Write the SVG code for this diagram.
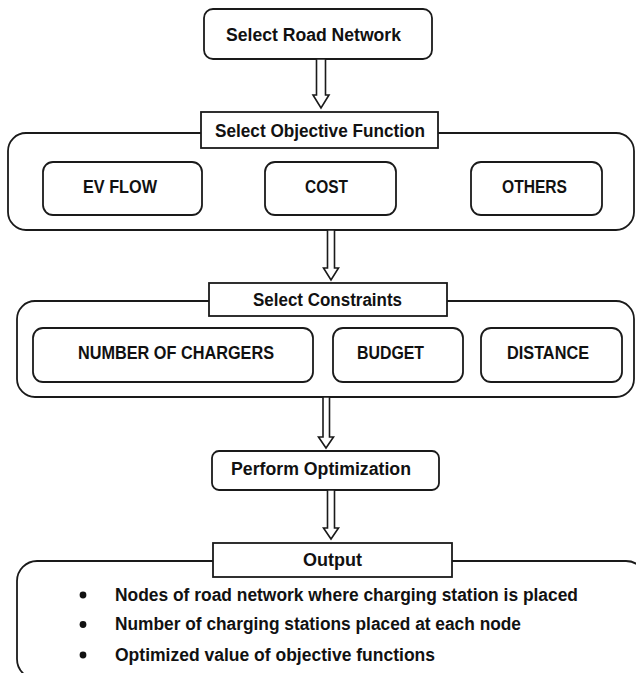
<svg xmlns="http://www.w3.org/2000/svg" width="636" height="673" viewBox="0 0 636 673">
  <style>
    .box { fill: #ffffff; stroke: #1a1a1a; stroke-width: 1.8; }
    .frame { fill: #ffffff; stroke: #1a1a1a; stroke-width: 1.8; }
    .arrow { fill: #ffffff; stroke: #1a1a1a; stroke-width: 1.6; stroke-linejoin: miter; }
    .lbl { font-family: "Liberation Sans", Arial, sans-serif; font-weight: bold; font-size: 18px; fill: #111111; text-anchor: middle; }
    .item { font-family: "Liberation Sans", Arial, sans-serif; font-weight: bold; font-size: 18px; fill: #111111; }
    .dot { fill: #111111; }
  </style>
  <rect width="636" height="673" fill="#ffffff"/>

  <!-- step 1 -->
  <g id="select-road-network">
    <rect class="box" x="204" y="9" width="228" height="50" rx="9"/>
    <text class="lbl" x="313.5" y="40.5" textLength="175" lengthAdjust="spacingAndGlyphs">Select Road Network</text>
  </g>

  <!-- objective function group -->
  <g id="objective-frame">
    <rect class="frame" x="8" y="133" width="626" height="97" rx="18"/>
  </g>
  <g id="select-objective-function">
    <rect class="box" x="201" y="112" width="237" height="36"/>
    <text class="lbl" x="320" y="137" textLength="210" lengthAdjust="spacingAndGlyphs">Select Objective Function</text>
  </g>
  <g id="ev-flow">
    <rect class="box" x="43" y="162" width="159" height="53" rx="10"/>
    <text class="lbl" x="120" y="193" textLength="74" lengthAdjust="spacingAndGlyphs">EV FLOW</text>
  </g>
  <g id="cost">
    <rect class="box" x="265" y="162" width="131" height="53" rx="10"/>
    <text class="lbl" x="326.5" y="193" textLength="43" lengthAdjust="spacingAndGlyphs">COST</text>
  </g>
  <g id="others">
    <rect class="box" x="471" y="162" width="131" height="53" rx="10"/>
    <text class="lbl" x="534.5" y="193" textLength="65" lengthAdjust="spacingAndGlyphs">OTHERS</text>
  </g>

  <!-- constraints group -->
  <g id="constraints-frame">
    <rect class="frame" x="17" y="301" width="617" height="96" rx="18"/>
  </g>
  <g id="select-constraints">
    <rect class="box" x="209" y="283" width="238" height="33"/>
    <text class="lbl" x="327.5" y="306" textLength="149" lengthAdjust="spacingAndGlyphs">Select Constraints</text>
  </g>
  <g id="number-of-chargers">
    <rect class="box" x="33" y="328" width="280" height="54" rx="10"/>
    <text class="lbl" x="176" y="359" textLength="196" lengthAdjust="spacingAndGlyphs">NUMBER OF CHARGERS</text>
  </g>
  <g id="budget">
    <rect class="box" x="333" y="328" width="130" height="54" rx="10"/>
    <text class="lbl" x="390.5" y="359" textLength="67" lengthAdjust="spacingAndGlyphs">BUDGET</text>
  </g>
  <g id="distance">
    <rect class="box" x="481" y="328" width="141" height="54" rx="10"/>
    <text class="lbl" x="548" y="359" textLength="82" lengthAdjust="spacingAndGlyphs">DISTANCE</text>
  </g>

  <!-- optimisation step -->
  <g id="perform-optimization">
    <rect class="box" x="212" y="451" width="227" height="39" rx="7"/>
    <text class="lbl" x="321" y="475" textLength="180" lengthAdjust="spacingAndGlyphs">Perform Optimization</text>
  </g>

  <!-- output group -->
  <g id="output-frame">
    <rect class="frame" x="17" y="561" width="629" height="118" rx="20"/>
  </g>
  <g id="output">
    <rect class="box" x="213" y="543" width="239" height="34"/>
    <text class="lbl" x="332.5" y="566" textLength="59" lengthAdjust="spacingAndGlyphs">Output</text>
  </g>
  <g id="output-items">
    <circle class="dot" cx="83" cy="595" r="3.4"/>
    <text class="item" x="115" y="600.5" textLength="463" lengthAdjust="spacingAndGlyphs">Nodes of road network where charging station is placed</text>
    <circle class="dot" cx="83" cy="624.5" r="3.4"/>
    <text class="item" x="115" y="630" textLength="406" lengthAdjust="spacingAndGlyphs">Number of charging stations placed at each node</text>
    <circle class="dot" cx="83" cy="655" r="3.4"/>
    <text class="item" x="115" y="660.5" textLength="320" lengthAdjust="spacingAndGlyphs">Optimized value of objective functions</text>
  </g>

  <!-- hollow block arrows between steps -->
  <g id="connectors">
    <polygon class="arrow" points="316.5,59 325.5,59 325.5,95 329,95 321,108 313,95 316.5,95"/>
    <polygon class="arrow" points="327.5,230 334.5,230 334.5,268 338.5,268 331,280 323.5,268 327.5,268"/>
    <polygon class="arrow" points="323,397 329.5,397 329.5,437 333.5,437 326,448 318.5,437 323,437"/>
    <polygon class="arrow" points="327.5,490 334.5,490 334.5,528 338.5,528 331,539 323.5,528 327.5,528"/>
  </g>
</svg>
